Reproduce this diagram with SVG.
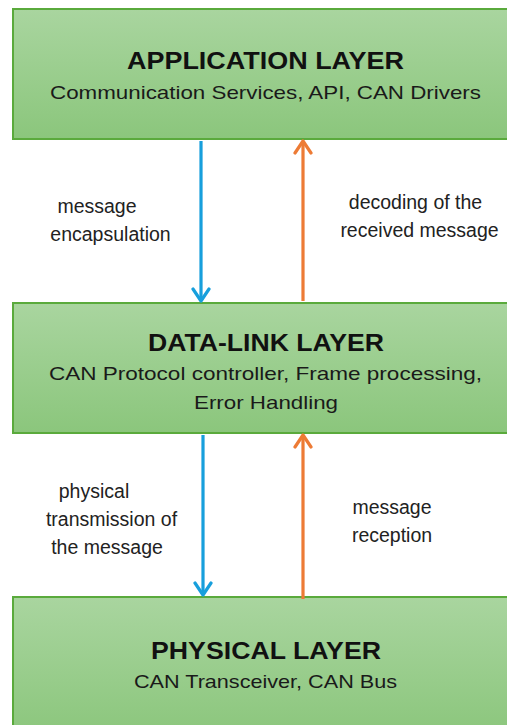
<svg xmlns="http://www.w3.org/2000/svg" width="507" height="725" viewBox="0 0 507 725">
  <defs>
    <linearGradient id="layerFill" x1="0" y1="0" x2="0" y2="1">
      <stop offset="0" stop-color="#a9d59f"/>
      <stop offset="1" stop-color="#8bc67c"/>
    </linearGradient>
    <marker id="headBlue" viewBox="0 0 16 20" refX="14" refY="10" markerWidth="16" markerHeight="20" markerUnits="userSpaceOnUse" orient="auto">
      <path d="M2 2 L14 10 L2 18" fill="none" stroke="#179fdc" stroke-width="3.2" stroke-linecap="round" stroke-linejoin="round"/>
    </marker>
    <marker id="headOrange" viewBox="0 0 16 20" refX="14" refY="10" markerWidth="16" markerHeight="20" markerUnits="userSpaceOnUse" orient="auto">
      <path d="M2 2 L14 10 L2 18" fill="none" stroke="#ed7b35" stroke-width="3.2" stroke-linecap="round" stroke-linejoin="round"/>
    </marker>
  </defs>
  <style>
    .layer { fill: url(#layerFill); stroke: #5aaa3c; stroke-width: 2; }
    .title { font-family: "Liberation Sans", Arial, sans-serif; font-weight: bold; font-size: 24px; fill: #111; text-anchor: middle; }
    .sub { font-family: "Liberation Sans", Arial, sans-serif; font-size: 19px; fill: #1a1a1a; text-anchor: middle; }
    .lbl { font-family: "Liberation Sans", Arial, sans-serif; font-size: 19.5px; fill: #222; text-anchor: middle; }
    .down { stroke: #179fdc; stroke-width: 3.2; fill: none; marker-end: url(#headBlue); }
    .up { stroke: #ed7b35; stroke-width: 3.2; fill: none; marker-end: url(#headOrange); }
  </style>
  <rect width="507" height="725" fill="#ffffff"/>

  <g id="application-layer">
    <rect class="layer" x="13" y="9" width="510" height="130"/>
    <text class="title" x="265.5" y="69" textLength="277" lengthAdjust="spacingAndGlyphs">APPLICATION LAYER</text>
    <text class="sub" x="265.5" y="99" textLength="431" lengthAdjust="spacingAndGlyphs">Communication Services, API, CAN Drivers</text>
  </g>

  <g id="data-link-layer">
    <rect class="layer" x="13" y="303" width="510" height="130"/>
    <text class="title" x="266" y="351" textLength="236" lengthAdjust="spacingAndGlyphs">DATA-LINK LAYER</text>
    <text class="sub" x="265.5" y="380" textLength="433" lengthAdjust="spacingAndGlyphs">CAN Protocol controller, Frame processing,</text>
    <text class="sub" x="266" y="409" textLength="144" lengthAdjust="spacingAndGlyphs">Error Handling</text>
  </g>

  <g id="physical-layer">
    <rect class="layer" x="13" y="597" width="510" height="140"/>
    <text class="title" x="266" y="659" textLength="230" lengthAdjust="spacingAndGlyphs">PHYSICAL LAYER</text>
    <text class="sub" x="265.5" y="688" textLength="263" lengthAdjust="spacingAndGlyphs">CAN Transceiver, CAN Bus</text>
  </g>

  <g id="connectors">
    <line class="down" x1="201" y1="141" x2="201" y2="301"/>
    <line class="up" x1="303" y1="301" x2="303" y2="141"/>
    <line class="down" x1="203" y1="435" x2="203" y2="595"/>
    <line class="up" x1="303" y1="599" x2="303" y2="435"/>
  </g>

  <g id="connector-labels">
    <text class="lbl" x="97" y="213">message</text>
    <text class="lbl" x="110.5" y="241">encapsulation</text>
    <text class="lbl" x="415.5" y="209">decoding of the</text>
    <text class="lbl" x="419.5" y="237">received message</text>
    <text class="lbl" x="94" y="498">physical</text>
    <text class="lbl" x="111.5" y="526">transmission of</text>
    <text class="lbl" x="107" y="554">the message</text>
    <text class="lbl" x="392" y="514">message</text>
    <text class="lbl" x="392" y="542">reception</text>
  </g>
</svg>
